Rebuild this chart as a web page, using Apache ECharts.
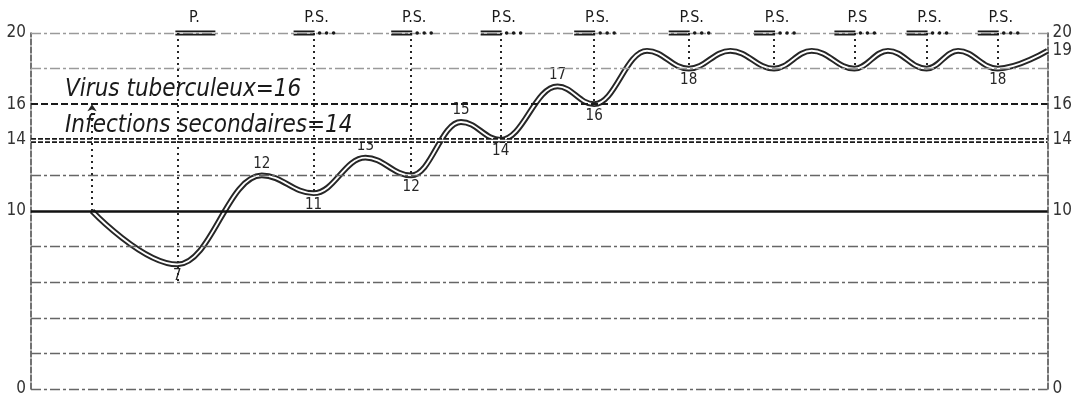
<!DOCTYPE html>
<html><head><meta charset="utf-8">
<script src="https://cdn.jsdelivr.net/npm/echarts@6/dist/echarts.min.js"></script>
<style>html,body{margin:0;padding:0;background:#fff}#c{width:1075px;height:401px}</style>
</head><body><div id="c"></div>
<script>
// ---- data ----
const xs = [6.0, 14.4, 22.7, 27.8, 32.9, 37.4, 42.3, 46.2, 51.8, 55.4, 60.6, 64.7, 68.8, 73.1, 76.8, 81.0, 84.3, 88.1, 91.2, 95.1, 100];
const ys = [10, 7, 12, 11, 13, 12, 15, 14, 17, 16, 19, 18, 19, 18, 19, 18, 19, 18, 19, 18, 19];
const pointLabels = ['', '7', '12', '11', '13', '12', '15', '14', '17', '16', '', '18', '', '', '', '', '', '', '', '18', ''];
const treatX = [14.4, 27.8, 37.4, 46.2, 55.4, 64.7, 73.1, 81.0, 88.1, 95.1];
const treatKind = ['P.', 'P.S.', 'P.S.', 'P.S.', 'P.S.', 'P.S.', 'P.S.', 'P.S', 'P.S.', 'P.S.'];
const treatEnd = [6, 11, 12, 14, 16, 18, 18, 18, 18, 18];
const startX = 6.0, startFrom = 10, startTo = 16;
const leftTicks = [0, 10, 14, 16, 20];
const rightTicks = [0, 10, 14, 16, 19, 20];
const gridValues = [0, 2, 4, 6, 8, 12, 18, 20];
const annotValues = [16, 14];
const annotTexts = ['Virus tuberculeux=16', 'Infections secondaires=14'];

// ---- chart ----
const F = "'DejaVu Sans Condensed','Liberation Sans Narrow','DejaVu Sans',sans-serif";
const INK = '#262626';
const chart = echarts.init(document.getElementById('c'), null, {renderer: 'canvas'});

const curveData = xs.map((x, i) => {
  const y = ys[i];
  const prev = i > 0 ? ys[i - 1] : y, next = i < ys.length - 1 ? ys[i + 1] : y;
  const isMin = y <= prev && y <= next;
  const item = {value: [x, y]};
  if (pointLabels[i]) {
    item.label = {show: true, formatter: pointLabels[i], position: isMin ? 'bottom' : 'top',
      distance: 4, fontFamily: F, fontSize: 15, color: INK};
  }
  return item;
});

const refLineData = [];
gridValues.forEach(v => {
  refLineData.push({yAxis: v, lineStyle: {color: (v >= 18 ? '#9a9a9a' : '#666'), width: 1.3, type: [10, 3, 3, 3]}});
});
refLineData.push({yAxis: 10, lineStyle: {color: '#111', width: 2.6, type: 'solid'}});
refLineData.push({yAxis: 16, lineStyle: {color: '#1a1a1a', width: 2.2, type: [7, 3]}});
refLineData.push({yAxis: 14, lineStyle: {color: '#1a1a1a', width: 4.8, type: [5, 2]}});
refLineData.push({yAxis: 14, lineStyle: {color: '#fff', width: 1.4, type: 'solid'}});
annotValues.forEach((v, i) => {
  refLineData.push({yAxis: v, lineStyle: {color: 'rgba(0,0,0,0)', width: 0}, label: {show: true, position: 'insideStartTop',
    formatter: annotTexts[i], distance: [34, 2], fontFamily: F, fontStyle: 'italic', fontSize: 24, color: '#1a1a1a'}});
});

const vLines = treatX.map((x, i) => [{coord: [x, 20]}, {coord: [x, treatEnd[i]]}]);
vLines.push([{coord: [startX, startFrom], symbol: 'none'}, {coord: [startX, startTo], symbol: 'arrow', symbolSize: 7}]);

function yAxisFor(ticks, pos) {
  return {
    type: 'value', min: 0, max: 20, interval: 1, position: pos,
    axisLine: {show: true, lineStyle: {color: '#444', width: 1.5, type: [6, 2]}},
    axisTick: {show: false},
    splitLine: {show: false},
    axisLabel: {interval: 0, margin: 5, fontFamily: F, fontSize: 17, color: '#333',
      formatter: v => ticks.includes(v) ? String(v) : ''}
  };
}

chart.setOption({
  animation: false,
  backgroundColor: '#fff',
  grid: {left: 31, right: 23, top: 33, bottom: 12},
  xAxis: {type: 'value', min: 0, max: 100, show: false},
  yAxis: [yAxisFor(leftTicks, 'left'), yAxisFor(rightTicks, 'right')],
  series: [
    {type: 'line', data: [], z: 1, silent: true,
      markLine: {silent: true, symbol: 'none', label: {show: false}, data: refLineData}},
    {type: 'line', data: [], z: 2, silent: true,
      markLine: {silent: true, symbol: 'none', label: {show: false},
        lineStyle: {color: INK, width: 2, type: [2, 4]}, data: vLines}},
    {type: 'line', data: curveData, z: 3, smooth: 0.4, smoothMonotone: 'x',
      symbol: 'circle', symbolSize: 0, showSymbol: true, showAllSymbol: true,
      itemStyle: {color: INK}, label: {show: false},
      lineStyle: {color: INK, width: 5.8}},
    {type: 'line', data: xs.map((x, i) => [x, ys[i]]), z: 4, smooth: 0.4, smoothMonotone: 'x', symbol: 'none',
      lineStyle: {color: '#fff', width: 1.9}},
    {type: 'custom', z: 5, clip: false, silent: true,
      data: treatX.map((x, i) => [x, 20, i]),
      renderItem: function (params, api) {
        const p = api.coord([api.value(0), api.value(1)]);
        const kind = treatKind[api.value(2)];
        const children = [];
        const isP = kind === 'P.';
        const x0 = isP ? p[0] - 2 : p[0] - 20, x1 = isP ? p[0] + 38 : p[0] + 1;
        [-1.6, 1.6].forEach(d => children.push({type: 'line',
          shape: {x1: x0, y1: p[1] + d, x2: x1, y2: p[1] + d}, style: {stroke: '#1a1a1a', lineWidth: 1.8}}));
        if (!isP) {
          [6, 13, 20].forEach(dx => children.push({type: 'circle',
            shape: {cx: p[0] + dx, cy: p[1], r: 1.8}, style: {fill: '#1a1a1a'}}));
        }
        children.push({type: 'text', x: isP ? p[0] + 17 : p[0] + 3, y: p[1] - 7,
          style: {text: kind, fontFamily: F, fontSize: 16, fill: '#1a1a1a', align: 'center', verticalAlign: 'bottom'}});
        return {type: 'group', children: children};
      }}
  ]
});
</script></body></html>
